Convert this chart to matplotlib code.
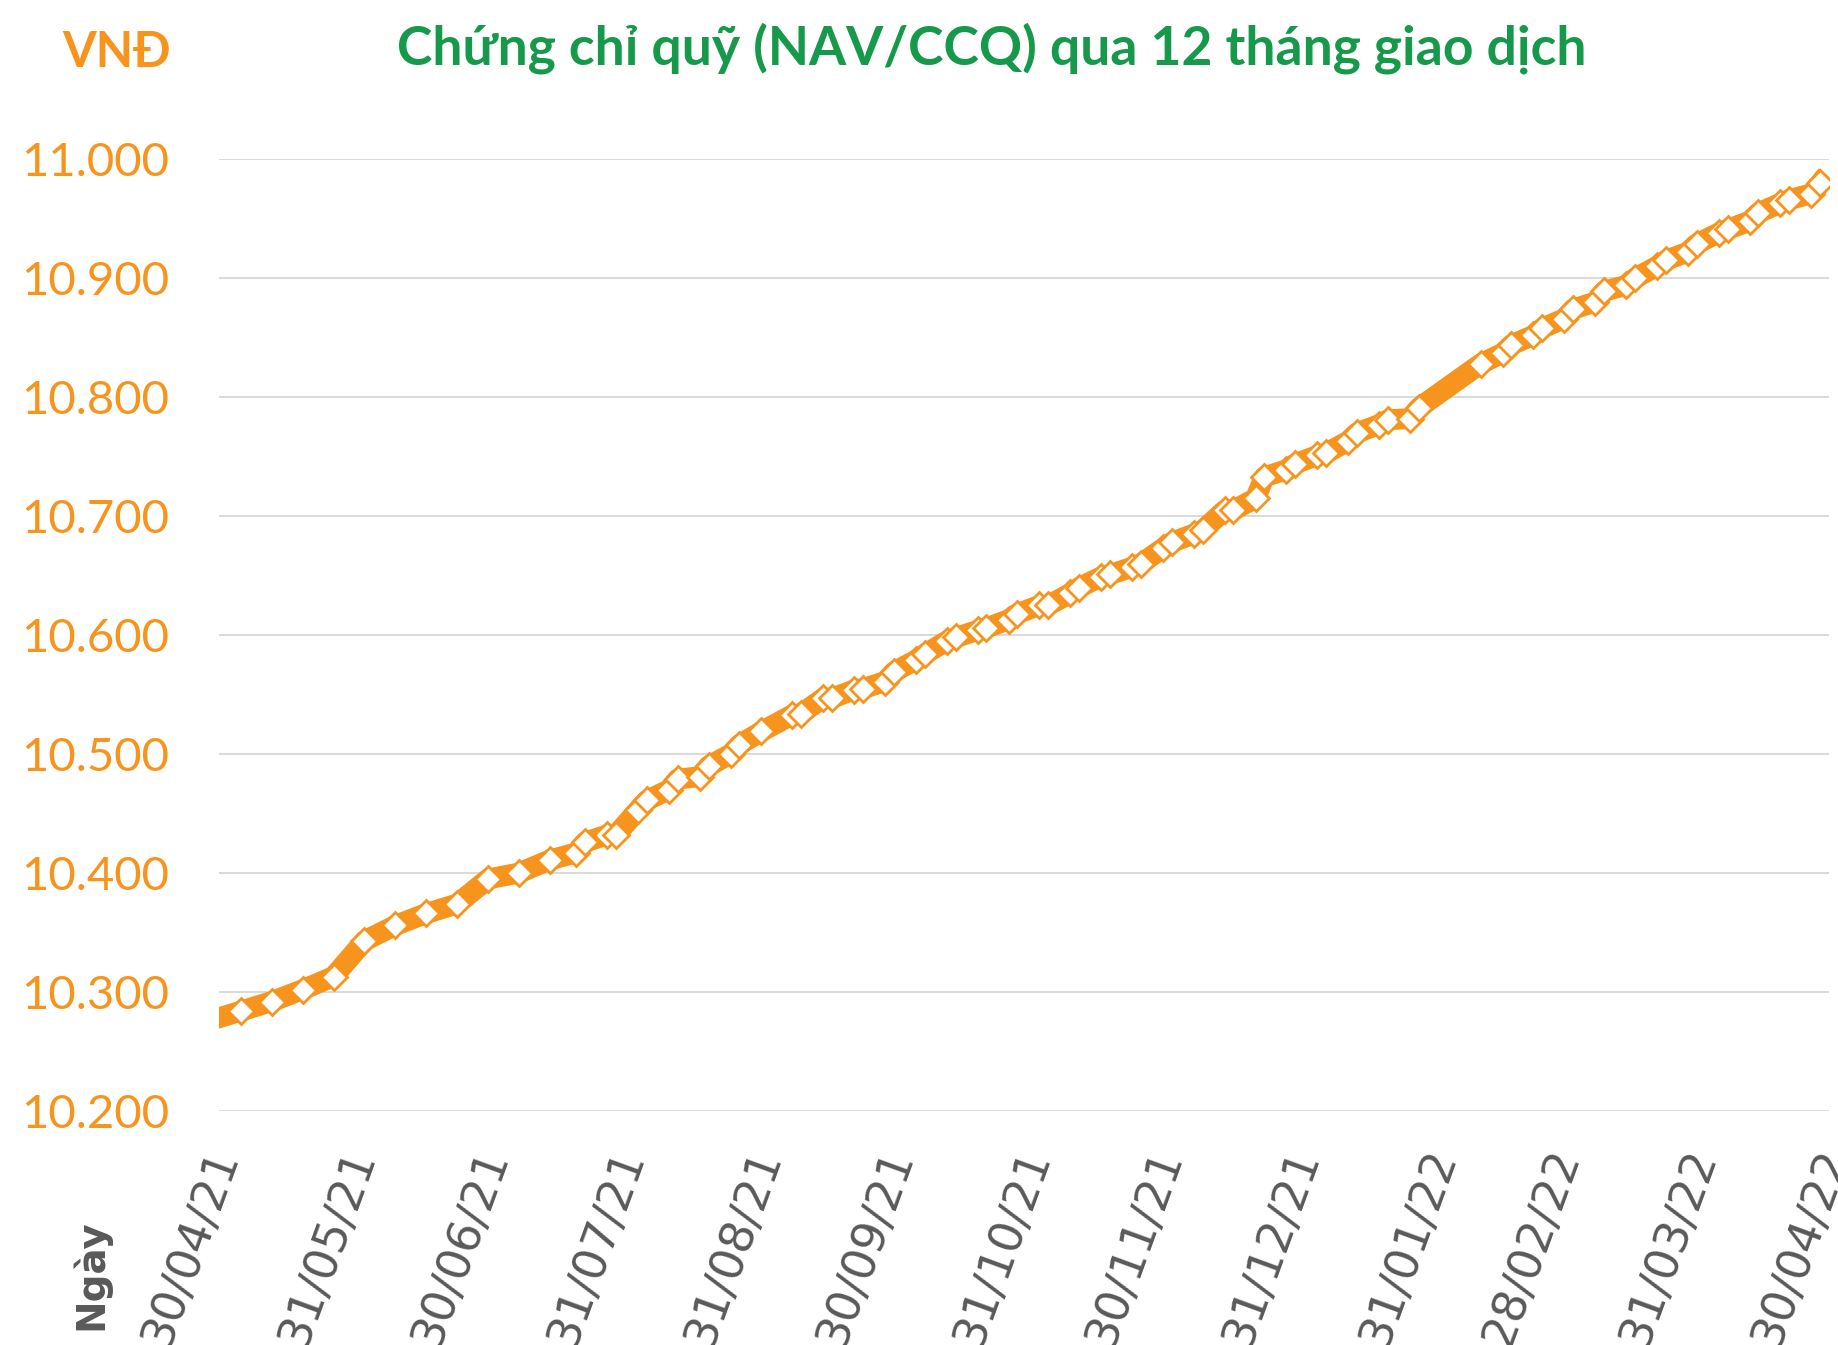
import pandas as pd
import numpy as np
import matplotlib
matplotlib.use("Agg")
import matplotlib.pyplot as plt
import matplotlib.dates as mdates
import matplotlib.transforms as mtransforms
from matplotlib.ticker import FuncFormatter

# NAV/CCQ values (VND)
dates = [
    "2021-04-28", "2021-05-05", "2021-05-12", "2021-05-19", "2021-05-26",
    "2021-06-02", "2021-06-09", "2021-06-16", "2021-06-23", "2021-06-30",
    "2021-07-07", "2021-07-14", "2021-07-20", "2021-07-22", "2021-07-27",
    "2021-07-29", "2021-08-03", "2021-08-05", "2021-08-10", "2021-08-12",
    "2021-08-17", "2021-08-19", "2021-08-24", "2021-08-26", "2021-08-31",
    "2021-09-07", "2021-09-09", "2021-09-14", "2021-09-16", "2021-09-21",
    "2021-09-23", "2021-09-28", "2021-09-30", "2021-10-05", "2021-10-07",
    "2021-10-12", "2021-10-14", "2021-10-19", "2021-10-21", "2021-10-26",
    "2021-10-28", "2021-11-02", "2021-11-04", "2021-11-09", "2021-11-11",
    "2021-11-16", "2021-11-18", "2021-11-23", "2021-11-25", "2021-11-30",
    "2021-12-02", "2021-12-07", "2021-12-09", "2021-12-14", "2021-12-16",
    "2021-12-21", "2021-12-23", "2021-12-28", "2021-12-30", "2022-01-04",
    "2022-01-06", "2022-01-11", "2022-01-13", "2022-01-18", "2022-01-20",
    "2022-01-25", "2022-01-27", "2022-02-10", "2022-02-15", "2022-02-17",
    "2022-02-22", "2022-02-24", "2022-03-01", "2022-03-03", "2022-03-08",
    "2022-03-10", "2022-03-15", "2022-03-17", "2022-03-22", "2022-03-24",
    "2022-03-29", "2022-03-31", "2022-04-05", "2022-04-07", "2022-04-12",
    "2022-04-14", "2022-04-19", "2022-04-21", "2022-04-26", "2022-04-28",
]
nav = [
    10276, 10284, 10292, 10302, 10313,
    10343, 10356, 10366, 10374, 10395,
    10400, 10411, 10417, 10426, 10432,
    10432, 10453, 10461, 10470, 10479,
    10481, 10490, 10500, 10508, 10519,
    10533, 10534, 10547, 10547, 10554,
    10555, 10561, 10569, 10579, 10584,
    10595, 10598, 10604, 10606, 10613,
    10618, 10625, 10625, 10635, 10640,
    10649, 10651, 10657, 10660, 10673,
    10678, 10685, 10688, 10705, 10705,
    10715, 10733, 10739, 10744, 10751,
    10753, 10763, 10770, 10777, 10781,
    10782, 10791, 10828, 10837, 10844,
    10852, 10858, 10866, 10874, 10880,
    10889, 10894, 10900, 10910, 10915,
    10922, 10929, 10938, 10941, 10948,
    10955, 10963, 10966, 10971, 10980,
]
tick_dates = [
    "2021-04-30", "2021-05-31", "2021-06-30", "2021-07-31", "2021-08-31",
    "2021-09-30", "2021-10-31", "2021-11-30", "2021-12-31", "2022-01-31",
    "2022-02-28", "2022-03-31", "2022-04-30",
]
y_ticks = [10200, 10300, 10400, 10500, 10600, 10700, 10800, 10900, 11000]

ORANGE = "#F7941D"
GREEN = "#16994A"
GREY = "#595959"

x = pd.to_datetime(dates)
xt = pd.to_datetime(tick_dates)

fig = plt.figure(figsize=(18.38, 13.45), dpi=100)
ax = fig.add_axes([0.1191, 0.1740, 0.876, 0.7076])

for v in y_ticks:
    ax.axhline(v, color="#D9D9D9", lw=1.4, zorder=0)

# first point sits before the axis start, so skip its marker
ax.plot(x, nav, color=ORANGE, lw=15, solid_joinstyle="round",
        marker="D", ms=13, mfc="white", mec=ORANGE, mew=2,
        markevery=list(range(1, len(nav))), zorder=3)

ax.set_xlim(xt[0], xt[-1])
ax.set_ylim(10200, 11000)
ax.set_yticks(y_ticks)
ax.yaxis.set_major_formatter(FuncFormatter(lambda v, p: f"{v:,.0f}".replace(",", ".")))
ax.tick_params(axis="y", length=0, pad=36, labelcolor=ORANGE, labelsize=34)
for lab in ax.get_yticklabels():
    lab.set_family(["Lato", "DejaVu Sans"])

ax.set_xticks(xt)
ax.set_xticklabels([d.strftime("%d/%m/%y") for d in xt])
ax.tick_params(axis="x", length=0, pad=0, labelcolor=GREY, labelsize=33)
shift = mtransforms.ScaledTranslation(0.08, -0.40, fig.dpi_scale_trans)
for lab in ax.get_xticklabels():
    lab.set_rotation(70)
    lab.set_rotation_mode("anchor")
    lab.set_ha("right")
    lab.set_va("center")
    lab.set_transform(lab.get_transform() + shift)

for s in ax.spines.values():
    s.set_visible(False)

fig.text(0.5397, 1 - 65 / 1345, "Chứng chỉ quỹ (NAV/CCQ) qua 12 tháng giao dịch",
         ha="center", va="baseline", color=GREEN, fontsize=38.5, fontweight="bold",
         family=["Lato", "DejaVu Sans"])
fig.text(117 / 1838, 1 - 67 / 1345, "VNĐ", ha="center", va="baseline",
         color=ORANGE, fontsize=35, fontweight="bold", family=["Lato", "DejaVu Sans"])
fig.text(91 / 1838, 1 - 1275 / 1345, "Ngày", ha="center", va="center", rotation=90,
         color=GREY, fontsize=28, fontweight="bold")

fig.savefig("out.png", dpi=100)
